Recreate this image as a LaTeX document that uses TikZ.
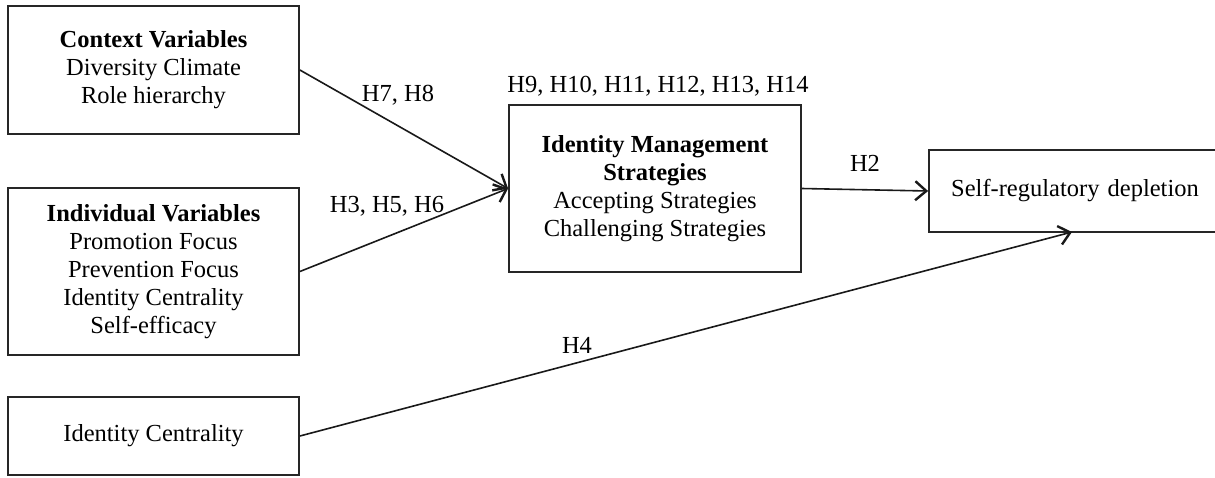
\documentclass[tikz,border=0pt]{standalone}
\usepackage{fontspec}
\setmainfont{Liberation Serif}
\usetikzlibrary{arrows.meta}
\tikzset{
  box/.style={draw=black!85, line width=1.8pt, align=center, inner sep=0pt,
    font=\fontsize{24.5}{28}\selectfont},
  conn/.style={draw=black!90, line width=1.6pt, -{Straight Barb[length=11pt,width=19pt,line width=2.4pt]}},
  lbl/.style={font=\fontsize{24.5}{28}\selectfont, inner sep=0pt}
}
\begin{document}
\begin{tikzpicture}[x=1pt,y=-1pt]
\useasboundingbox (0,0) rectangle (1215,477);
\begin{scope}
\clip (0,0) rectangle (1215,477);
\node[box, minimum width=291pt, minimum height=128pt] (ctx) at (153.5,70)
  {\textbf{Context Variables}\\Diversity Climate\\Role hierarchy};
\node[box, minimum width=291pt, minimum height=167pt] (ind) at (153.5,271.5)
  {\textbf{Individual Variables}\\Promotion Focus\\Prevention Focus\\Identity Centrality\\Self-efficacy};
\node[box, minimum width=291pt, minimum height=78pt] (ic) at (153.5,436)
  {Identity Centrality};
\node[box, minimum width=292pt, minimum height=167pt] (ims) at (655,188.5)
  {\textbf{Identity Management}\\\textbf{Strategies}\\Accepting Strategies\\Challenging Strategies};
\node[box, minimum width=296pt, minimum height=82pt, text width=296pt] (srd) at (1077,191)
  {\hspace*{-4pt}Self-regulatory depletion};
\coordinate (h4end) at (1072,232);
\draw[conn] (ctx.east) -- (ims.west);
\draw[conn] (ind.east) -- (ims.west);
\draw[conn] (ims.east) -- (srd.west);
\draw[conn] (ic.east) -- (h4end);
\node[lbl] (l78) at (398,95) {H7, H8};
\node[lbl] (l356) at (387,206) {H3, H5, H6};
\node[lbl] (l914) at (658,86) {H9, H10, H11, H12, H13, H14};
\node[lbl] (l2) at (865,163) {H2};
\node[lbl] (l4) at (577,345) {H4};
\end{scope}
\end{tikzpicture}
\end{document}
